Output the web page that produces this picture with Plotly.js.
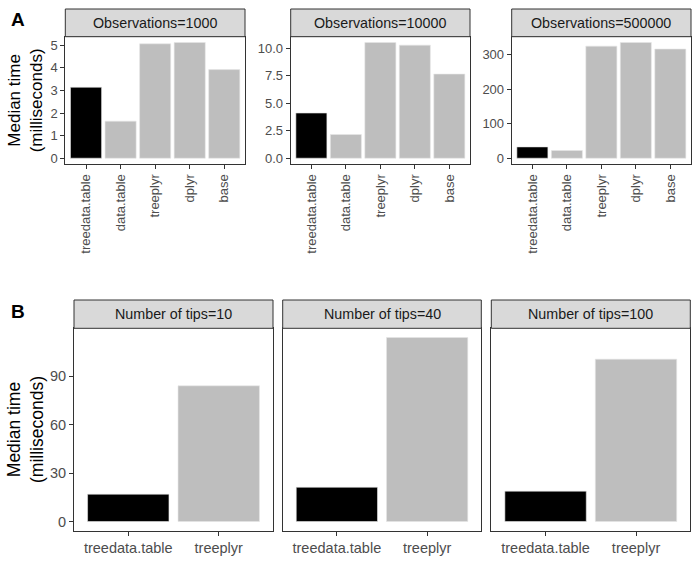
<!DOCTYPE html>
<html>
<head>
<meta charset="utf-8">
<script src="https://cdn.plot.ly/plotly-3.0.1.min.js"></script>
<style>html,body{margin:0;padding:0;background:#fff;}#chart{width:700px;height:583px;}</style>
</head>
<body>
<div id="chart"></div>
<script>
// ---- data ----
const categoriesA = ['treedata.table', 'data.table', 'treeplyr', 'dplyr', 'base'];
const obs1000 = [3.14, 1.64, 5.06, 5.12, 3.92];
const obs10000 = [4.11, 2.15, 10.52, 10.28, 7.65];
const obs500000 = [32.8, 22.3, 325, 335.6, 316.5];
const panelTitlesA = ['Observations=1000', 'Observations=10000', 'Observations=500000'];

const categoriesB = ['treedata.table', 'treeplyr'];
const tips10 = [16.9, 84.0];
const tips40 = [21.2, 113.9];
const tips100 = [18.8, 100.5];
const panelTitlesB = ['Number of tips=10', 'Number of tips=40', 'Number of tips=100'];

const yTitle = 'Median time<br>(milliseconds)';

// ---- layout helpers ----
const W = 700, H = 583;
const FONT = 'Liberation Sans, Arial, Helvetica, sans-serif';
const px = v => v / W;
const py = v => 1 - v / H;
const BLACK = '#000000', GREY = '#BEBEBE';

const panelsA = [[65.3, 245], [290.7, 470], [511.7, 691]];
const panelsB = [[74, 273], [282.7, 481.3], [491.3, 690.3]];
const A_top = 36.7, A_bot = 164, A_stripTop = 9;
const B_top = 328.3, B_bot = 530.7, B_stripTop = 300;

const seriesA = [obs1000, obs10000, obs500000];
const seriesB = [tips10, tips40, tips100];
const maxB = Math.max(...tips10, ...tips40, ...tips100);

const traces = [];
const layout = {
  width: W, height: H,
  margin: {l: 0, r: 0, t: 0, b: 0},
  paper_bgcolor: '#fff', plot_bgcolor: '#fff',
  showlegend: false,
  font: {family: FONT, color: '#4D4D4D'},
  shapes: [], annotations: []
};

function axisBase() {
  return {
    showgrid: false, zeroline: false,
    showline: true, mirror: true, linecolor: '#333333', linewidth: 1,
    ticks: 'outside', ticklen: 4, tickcolor: '#333333', tickwidth: 1,
    fixedrange: true
  };
}

let idx = 0;
function addPanel(cats, vals, xr, top, bot, stripTop, title, yopts, isA) {
  idx++;
  const xa = idx === 1 ? 'x' : 'x' + idx;
  const ya = idx === 1 ? 'y' : 'y' + idx;
  traces.push({
    type: 'bar', x: cats, y: vals, xaxis: xa, yaxis: ya, width: 0.9,
    marker: {color: cats.map(c => c === 'treedata.table' ? BLACK : GREY),
             line: {color: '#e6e6e6', width: 0.6}},
    hoverinfo: 'x+y'
  });
  const xk = idx === 1 ? 'xaxis' : 'xaxis' + idx;
  const yk = idx === 1 ? 'yaxis' : 'yaxis' + idx;
  layout[xk] = Object.assign(axisBase(), {
    domain: [px(xr[0]), px(xr[1])], anchor: ya, type: 'category',
    range: [-0.6, cats.length - 0.4],
    tickangle: isA ? -90 : 0,
    tickfont: {size: isA ? 13 : 14.5, color: '#4D4D4D', family: FONT}
  });
  layout[yk] = Object.assign(axisBase(), {
    domain: [py(bot), py(top)], anchor: xa
  }, yopts);
  // strip
  layout.shapes.push({type: 'rect', xref: 'paper', yref: 'paper',
    x0: px(xr[0]), x1: px(xr[1]), y0: py(top), y1: py(stripTop),
    fillcolor: '#D9D9D9', line: {color: '#333333', width: 1}, layer: 'above'});
  layout.annotations.push({xref: 'paper', yref: 'paper',
    x: px((xr[0] + xr[1]) / 2), y: py((top + stripTop) / 2),
    xanchor: 'center', yanchor: 'middle', showarrow: false,
    text: title, font: {size: 14.3, color: '#1A1A1A', family: FONT}});
}

// Part A (free y scales)
const yTicksA = [
  {dtick: 1, tickformat: 'd'},
  {dtick: 2.5, tickformat: '.1f'},
  {dtick: 100, tickformat: 'd'}
];
seriesA.forEach((vals, i) => {
  const m = Math.max(...vals);
  addPanel(categoriesA, vals, panelsA[i], A_top, A_bot, A_stripTop, panelTitlesA[i],
    Object.assign({range: [-0.05 * m, 1.05 * m], tick0: 0,
      tickfont: {size: 13, color: '#4D4D4D', family: FONT}}, yTicksA[i]), true);
});

// Part B (shared y scale)
seriesB.forEach((vals, i) => {
  addPanel(categoriesB, vals, panelsB[i], B_top, B_bot, B_stripTop, panelTitlesB[i],
    {range: [-0.05 * maxB, 1.05 * maxB], tick0: 0, dtick: 30,
     showticklabels: i === 0, ticks: i === 0 ? 'outside' : '',
     tickfont: {size: 14.5, color: '#4D4D4D', family: FONT}}, false);
});

// y-axis titles
layout.annotations.push({xref: 'paper', yref: 'paper', x: px(25), y: py((A_top + A_bot) / 2),
  xanchor: 'center', yanchor: 'middle', showarrow: false, textangle: -90,
  text: yTitle, font: {size: 17, color: '#000', family: FONT}});
layout.annotations.push({xref: 'paper', yref: 'paper', x: px(25.5), y: py((B_top + B_bot) / 2),
  xanchor: 'center', yanchor: 'middle', showarrow: false, textangle: -90,
  text: yTitle, font: {size: 17.5, color: '#000', family: FONT}});

// panel letters
layout.annotations.push({xref: 'paper', yref: 'paper', x: px(9), y: py(7),
  xanchor: 'left', yanchor: 'top', showarrow: false,
  text: '<b>A</b>', font: {size: 19, color: '#000', family: FONT}});
layout.annotations.push({xref: 'paper', yref: 'paper', x: px(9), y: py(299),
  xanchor: 'left', yanchor: 'top', showarrow: false,
  text: '<b>B</b>', font: {size: 19, color: '#000', family: FONT}});

Plotly.newPlot('chart', traces, layout, {displayModeBar: false, staticPlot: true});
</script>
</body>
</html>
